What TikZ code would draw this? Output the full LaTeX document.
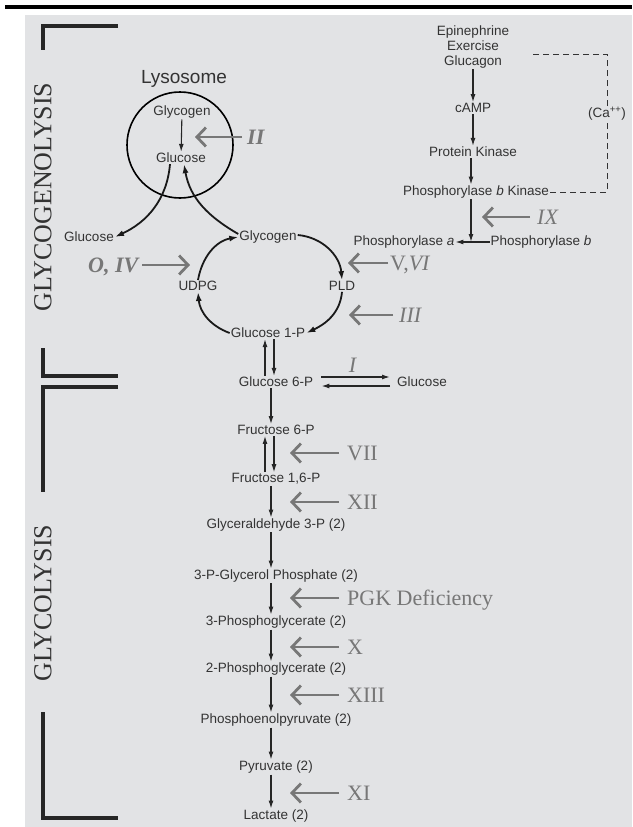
\documentclass[tikz,border=0pt]{standalone}
\usepackage{fontspec}
\setmainfont{Liberation Serif}
\setsansfont{Liberation Sans}
\usetikzlibrary{arrows.meta}

\definecolor{panel}{HTML}{E2E3E5}
\definecolor{ink}{HTML}{333333}
\definecolor{hint}{HTML}{777777}

\begin{document}
\begin{tikzpicture}[x=1pt, y=1pt,
    every node/.style={inner sep=1pt, text=ink, font=\sffamily\fontsize{13.5}{15}\selectfont},
    numeral/.style={inner sep=0pt, text depth=0pt, text=hint, font=\rmfamily\fontsize{22}{24}\selectfont, anchor=west},
    phase/.style={rotate=90, inner sep=0pt, font=\rmfamily\fontsize{26}{28}\selectfont},
    flow/.style={-{Latex[length=8pt,width=5pt]}, line width=1.1pt, black!85},
    cyc/.style={-{Latex[length=9pt,width=6pt]}, line width=1.8pt, black!90},
    block/.style={-{Straight Barb[length=9pt,width=19pt]}, line width=2.8pt, hint},
    bracket/.style={line width=4.5pt, black!85},
    calink/.style={dash pattern=on 6pt off 4pt, line width=1pt, ink}]

    \useasboundingbox (0,0) rectangle (632,-827);
    \fill[panel] (25,-15) rectangle (632,-827);
    \draw[line width=4pt] (5,-7) -- (632,-7);

    % Side brackets
    \draw[bracket] (118,-26) -- (43,-26) -- (43,-50);
    \node[phase] (glgn) at (43,-197) {GLYCOGENOLYSIS};
    \draw[bracket] (43,-348) -- (43,-376) -- (118,-376);
    \draw[bracket] (118,-387) -- (43,-387) -- (43,-492);
    \node[phase] (glys) at (43,-603) {GLYCOLYSIS};
    \draw[bracket] (43,-712) -- (43,-818) -- (118,-818);

    % Lysosome
    \node[font=\sffamily\fontsize{19}{21}\selectfont] (lysolabel) at (184,-79) {Lysosome};
    \node[circle, draw, line width=1.6pt, minimum size=106pt, inner sep=0pt] (lyso) at (180,-145) {};
    \node (lgly) at (182,-112) {Glycogen};
    \node (lglc) at (181,-158) {Glucose};
    \draw[flow] (lgly) -- (lglc);
    \node (oglc) at (89,-237) {Glucose};

    % Glycogen cycle
    \node (glyc) at (268,-237) {Glycogen};
    \node (udpg) at (198,-286) {UDPG};
    \node (pld) at (342,-286) {PLD};
    \node (g1p) at (268,-333) {Glucose 1-P};
    \draw[cyc] ([yshift=2pt]glyc.east) to[out=-5,in=95] (pld.north);
    \draw[cyc] (pld.south) to[out=-95,in=25] (g1p.east);
    \draw[cyc] (g1p.west) to[out=160,in=-85] (udpg.south);
    \draw[cyc] (udpg.north) to[out=80,in=190] (glyc.west);
    \draw[cyc] ([yshift=3pt]glyc.west) to[out=150,in=-80] ([xshift=3pt]lglc.south);
    \draw[cyc] ([xshift=-11pt]lglc.south) to[out=-95,in=25] (oglc.east);

    % Glycolysis
    \node (g6p) at (276,-382) {Glucose 6-P};
    \node (glcr) at (422,-382) {Glucose};
    \node (f6p) at (276,-430) {Fructose 6-P};
    \node (f16p) at (276,-479) {Fructose 1,6-P};
    \node (ga3p) at (276,-525) {Glyceraldehyde 3-P (2)};
    \node (pgp) at (276,-576) {3-P-Glycerol Phosphate (2)};
    \node (pg3) at (276,-622) {3-Phosphoglycerate (2)};
    \node (pg2) at (276,-669) {2-Phosphoglycerate (2)};
    \node (pep) at (276,-720) {Phosphoenolpyruvate (2)};
    \node (pyr) at (276,-767) {Pyruvate (2)};
    \node (lac) at (276,-816) {Lactate (2)};

    \draw[flow] ([xshift=-11pt]g6p.north) -- ([xshift=-11pt]g6p.north |- g1p.south);
    \draw[flow] ([xshift=-2pt]g6p.north |- g1p.south) -- ([xshift=-2pt]g6p.north);
    \draw[flow, line width=1.4pt, shorten <=7pt, shorten >=6pt] ([yshift=5pt]g6p.east) -- ([yshift=5pt]glcr.west);
    \draw[flow, line width=1.4pt, shorten <=6pt, shorten >=7pt] ([yshift=-4pt]glcr.west) -- ([yshift=-4pt]g6p.east);
    \node[numeral, anchor=center] (ione) at (353,-365) {\textit{I}};
    \draw[flow] ([xshift=-5pt]g6p.south) -- ([xshift=-5pt]f6p.north);
    \draw[flow] ([xshift=-11pt]f16p.north) -- ([xshift=-11pt]f16p.north |- f6p.south);
    \draw[flow] ([xshift=-2pt]f16p.north |- f6p.south) -- ([xshift=-2pt]f16p.north);
    \draw[flow] ([xshift=-5pt]f16p.south) -- ([xshift=-5pt]ga3p.north);
    \draw[flow] ([xshift=-5pt]ga3p.south) -- ([xshift=-5pt]pgp.north);
    \draw[flow] ([xshift=-5pt]pgp.south) -- ([xshift=-5pt]pg3.north);
    \draw[flow] ([xshift=-5pt]pg3.south) -- ([xshift=-5pt]pg2.north);
    \draw[flow] ([xshift=-5pt]pg2.south) -- ([xshift=-5pt]pep.north);
    \draw[flow] ([xshift=-5pt]pep.south) -- ([xshift=-5pt]pyr.north);
    \draw[flow] ([xshift=-5pt]pyr.south) -- ([xshift=-5pt]lac.north);

    % Hormone cascade
    \node[align=center] (horm) at (473,-47) {Epinephrine\\Exercise\\Glucagon};
    \node (camp) at (473,-108) {cAMP};
    \node (pk) at (473,-152) {Protein Kinase};
    \node (pbk) at (476,-192) {Phosphorylase \textit{b} Kinase};
    \node (pa) at (404,-242) {Phosphorylase \textit{a}};
    \node (pb) at (541,-242) {Phosphorylase \textit{b}};
    \draw[flow] (horm) -- (camp);
    \draw[flow] (camp) -- (pk);
    \draw[flow] ([xshift=-2pt]pk.south) -- ([xshift=-2pt]pk.south |- pbk.north);
    \draw[flow, line width=1.4pt] ([xshift=-5pt]pbk.south) -- ([xshift=-5pt]pbk.south |- pa.east);
    \draw[flow] (pb.west) -- (pa.east);

    % Calcium link
    \node (ca) at (607,-114) {(Ca\textsuperscript{++})};
    \coordinate (catop) at (533,-54);
    \draw[calink] (pbk.east) -| (ca.south);
    \draw[calink] (ca.north) |- (catop);

    % Deficiencies
    \node[numeral] (ii) at (247,-137) {\textbf{\textit{II}}};
    \draw[block] ([xshift=-5pt]ii.west) -- ([xshift=-52pt]ii.west);
    \node[numeral] (ix) at (537,-217) {\textit{IX}};
    \draw[block] ([xshift=-7pt]ix.west) -- ([xshift=-55pt]ix.west);
    \node[numeral, anchor=east] (oiv) at (140,-265) {\textbf{\textit{O, IV}}};
    \draw[block] ([xshift=2pt]oiv.east) -- ([xshift=50pt]oiv.east);
    \node[numeral] (vvi) at (390,-263) {V,\textit{VI}};
    \draw[block] ([xshift=-2pt]vvi.west) -- ([xshift=-42pt]vvi.west);
    \node[numeral] (iii) at (399,-315) {\textit{III}};
    \draw[block] ([xshift=-6pt]iii.west) -- ([xshift=-50pt]iii.west);
    \node[numeral] (vii) at (347,-453) {VII};
    \draw[block] ([xshift=-8pt]vii.west) -- ([xshift=-57pt]vii.west);
    \node[numeral] (xii) at (347,-502) {XII};
    \draw[block] ([xshift=-8pt]xii.west) -- ([xshift=-57pt]xii.west);
    \node[numeral] (pgk) at (347,-598) {PGK Deficiency};
    \draw[block] ([xshift=-8pt]pgk.west) -- ([xshift=-57pt]pgk.west);
    \node[numeral] (x) at (347,-647) {X};
    \draw[block] ([xshift=-8pt]x.west) -- ([xshift=-57pt]x.west);
    \node[numeral] (xiii) at (347,-695) {XIII};
    \draw[block] ([xshift=-8pt]xiii.west) -- ([xshift=-57pt]xiii.west);
    \node[numeral] (xi) at (347,-793) {XI};
    \draw[block] ([xshift=-8pt]xi.west) -- ([xshift=-57pt]xi.west);

\end{tikzpicture}
\end{document}
